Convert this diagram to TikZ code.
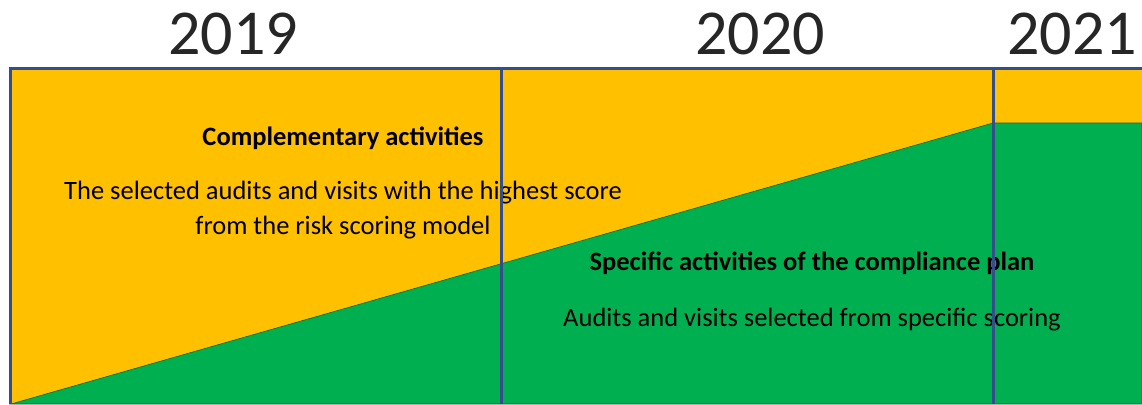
\documentclass[tikz,border=0pt]{standalone}
\usepackage{fontspec}
\setmainfont{Carlito}
\usetikzlibrary{positioning}

\definecolor{planorange}{RGB}{255,192,0}
\definecolor{plangreen}{RGB}{0,176,80}
\definecolor{yearline}{RGB}{52,78,140}

\begin{document}
\begin{tikzpicture}[
    x=1pt, y=-1pt,
    % Styles
    year/.style={anchor=base, font=\fontsize{64}{74}\selectfont, text=black!85},
    heading/.style={anchor=base, font=\fontsize{26.5}{30}\selectfont\bfseries, inner sep=0pt},
    body/.style={anchor=base, font=\fontsize{26.5}{30}\selectfont, align=center, inner sep=0pt},
    divider/.style={draw=yearline, line width=3pt}
]
    \useasboundingbox (0,0) rectangle (1142,404);

    % --- BANDS ---
    \fill[planorange] (10,68) rectangle (1142,404);
    \fill[plangreen, draw=plangreen!60!black, line width=0.6pt]
        (11,404) -- (993,123) -- (1142,123) -- (1142,404) -- cycle;

    % --- YEARS ---
    \node[year] (y2019) at (233,55) {2019};
    \node[year] (y2020) at (760,55) {2020};
    \node[year] (y2021) at (1072,55) {2021};

    % --- TEXTS ---
    \node[heading] (comp) at (343,145) {Complementary activities};
    \node[body] (compline1) at (343,199) {The selected audits and visits with the highest score};
    \node[body] (compline2) at (343,234) {from the risk scoring model};

    \node[heading] (spec) at (812,270) {Specific activities of the compliance plan};
    \node[body] (specline) at (812,326) {Audits and visits selected from specific scoring};

    % --- FRAME AND YEAR DIVIDERS ---
    \coordinate (topleft) at (10,68);
    \coordinate (topright) at (1142,68);
    \coordinate (bottomleft) at (10,404);
    \coordinate (div1top) at (501,68);
    \coordinate (div1bot) at (501,404);
    \coordinate (div2top) at (993,68);
    \coordinate (div2bot) at (993,404);

    \draw[divider] (bottomleft) -- (topleft) -- (topright);
    \draw[divider] (div1top) -- (div1bot);
    \draw[divider] (div2top) -- (div2bot);

\end{tikzpicture}
\end{document}
